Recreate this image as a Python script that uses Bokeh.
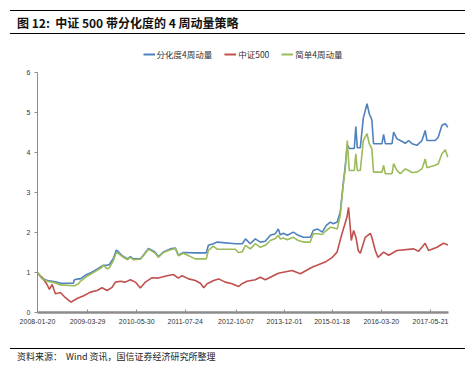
import pandas as pd
from bokeh.plotting import figure
from bokeh.layouts import column
from bokeh.models import (Range1d, FixedTicker, DatetimeTickFormatter, Legend, LegendItem,
                          ColumnDataSource, Div)
from bokeh.embed import file_html
from bokeh.resources import INLINE

# ---------------- data ----------------
title_text = "图 12:&nbsp; 中证 500 带分化度的 4 周动量策略"
source_text = "资料来源：&nbsp; Wind 资讯，国信证券经济研究所整理"
series_names = ["分化度4周动量", "中证500", "简单4周动量"]

tick_labels = ["2008-01-20", "2009-03-29", "2010-05-30", "2011-07-24", "2012-10-07",
               "2013-12-01", "2015-01-18", "2016-03-20", "2017-05-21"]

bg_dates = ["2008-01-20", "2008-03-02", "2008-04-15", "2008-06-23", "2008-08-06", "2008-11-26",
            "2008-12-05", "2009-01-09", "2009-01-26", "2009-03-10", "2009-05-01", "2009-06-23",
            "2009-07-27", "2009-08-14", "2009-09-17", "2009-10-05", "2009-11-08", "2009-12-04",
            "2009-12-21", "2010-01-25", "2010-03-10", "2010-04-05", "2010-05-01", "2010-06-30",
            "2010-07-26", "2010-09-08", "2010-10-12", "2010-11-07", "2010-12-03", "2011-01-16",
            "2011-03-17", "2011-04-30", "2011-05-26", "2011-07-08", "2011-10-20", "2012-01-23",
            "2012-02-10", "2012-03-24", "2012-04-28", "2012-10-01", "2012-10-27", "2012-12-01",
            "2012-12-28", "2013-02-08", "2013-03-23", "2013-05-06", "2013-06-18", "2013-08-01",
            "2013-09-13", "2013-10-09", "2013-10-26", "2013-11-21", "2013-12-26", "2014-02-16",
            "2014-03-31", "2014-05-14", "2014-07-13", "2014-08-08", "2014-09-12", "2014-10-25",
            "2014-11-29", "2015-01-03", "2015-01-29", "2015-03-04", "2015-03-30", "2015-04-25",
            "2015-05-13", "2015-05-30", "2015-06-16", "2015-07-30", "2015-08-12", "2015-08-25",
            "2015-09-20", "2015-10-16", "2015-11-17", "2015-12-07", "2015-12-29", "2016-01-13",
            "2016-03-26", "2016-04-09", "2016-04-24", "2016-06-21", "2016-07-05", "2016-08-03",
            "2016-09-01", "2016-10-14", "2016-11-12", "2016-12-11", "2017-01-23", "2017-03-08",
            "2017-04-05", "2017-04-20", "2017-07-01", "2017-07-27", "2017-08-28", "2017-09-26",
            "2017-10-19"]

blue_vals = [1.00, 0.85, 0.80, 0.77, 0.73, 0.73,
             0.82, 0.84, 0.84, 0.93, 1.00, 1.09,
             1.15, 1.18, 1.18, 1.20, 1.35, 1.56,
             1.52, 1.42, 1.34, 1.40, 1.34, 1.34,
             1.43, 1.60, 1.55, 1.50, 1.40, 1.51,
             1.59, 1.61, 1.43, 1.50, 1.49, 1.49,
             1.68, 1.72, 1.76, 1.72, 1.72, 1.72,
             1.84, 1.72, 1.84, 1.76, 1.78, 1.93,
             1.97, 2.09, 1.94, 1.98, 1.93, 2.01,
             1.93, 1.88, 1.88, 2.05, 2.09, 2.01,
             2.18, 2.26, 2.22, 2.26, 2.51, 3.22,
             3.68, 4.20, 4.10, 4.10, 4.65, 4.12,
             4.12, 4.86, 5.22, 4.97, 4.82, 4.22,
             4.22, 4.45, 4.22, 4.22, 4.51, 4.34,
             4.30, 4.23, 4.30, 4.22, 4.18, 4.30,
             4.55, 4.30, 4.30, 4.38, 4.68, 4.72,
             4.63]

green_vals = [1.00, 0.84, 0.78, 0.74, 0.69, 0.67,
              0.67, 0.72, 0.78, 0.88, 0.97, 1.06,
              1.12, 1.18, 1.09, 1.12, 1.30, 1.50,
              1.48, 1.40, 1.32, 1.38, 1.32, 1.33,
              1.42, 1.58, 1.53, 1.48, 1.38, 1.50,
              1.57, 1.60, 1.42, 1.48, 1.34, 1.34,
              1.55, 1.66, 1.58, 1.58, 1.50, 1.52,
              1.68, 1.59, 1.72, 1.63, 1.68, 1.80,
              1.85, 1.93, 1.84, 1.86, 1.82, 1.88,
              1.80, 1.76, 1.76, 1.97, 1.97, 1.95,
              2.05, 2.13, 2.12, 2.09, 2.43, 3.20,
              3.60, 4.30, 3.55, 3.55, 3.97, 3.55,
              3.55, 4.30, 4.47, 4.22, 4.09, 3.51,
              3.51, 3.68, 3.47, 3.47, 3.72, 3.55,
              3.47, 3.59, 3.55, 3.50, 3.51, 3.59,
              3.84, 3.62, 3.68, 3.72, 3.97, 4.07,
              3.88]

red_dates = ["2008-01-20", "2008-02-29", "2008-04-12", "2008-05-02", "2008-05-26", "2008-06-23",
             "2008-08-06", "2008-09-18", "2008-11-06", "2008-12-28", "2009-02-24", "2009-04-23",
             "2009-06-20", "2009-08-02", "2009-09-15", "2009-10-28", "2009-11-26", "2010-01-08",
             "2010-02-20", "2010-04-05", "2010-05-18", "2010-06-30", "2010-08-13", "2010-10-10",
             "2010-12-03", "2011-02-17", "2011-04-12", "2011-05-26", "2011-06-27", "2011-08-23",
             "2011-10-20", "2011-12-03", "2012-01-01", "2012-01-30", "2012-03-27", "2012-05-09",
             "2012-07-06", "2012-09-02", "2012-10-30", "2012-11-28", "2013-01-10", "2013-03-23",
             "2013-05-06", "2013-06-18", "2013-10-09", "2014-02-05", "2014-04-18", "2014-07-28",
             "2014-11-20", "2015-01-17", "2015-03-02", "2015-04-14", "2015-05-27", "2015-06-10",
             "2015-07-04", "2015-07-24", "2015-08-13", "2015-09-02", "2015-09-20", "2015-11-02",
             "2015-12-16", "2015-12-30", "2016-01-28", "2016-02-20", "2016-04-09", "2016-05-23",
             "2016-08-03", "2016-12-26", "2017-02-06", "2017-04-05", "2017-05-04", "2017-07-16",
             "2017-09-11", "2017-10-19"]

red_vals = [0.98, 0.88, 0.70, 0.58, 0.70, 0.47,
            0.50, 0.37, 0.26, 0.35, 0.42, 0.51,
            0.55, 0.62, 0.55, 0.63, 0.76, 0.78,
            0.76, 0.82, 0.76, 0.61, 0.76, 0.87,
            0.86, 0.92, 0.95, 0.86, 0.92, 0.84,
            0.80, 0.73, 0.62, 0.72, 0.80, 0.84,
            0.76, 0.72, 0.65, 0.72, 0.78, 0.82,
            0.88, 0.82, 0.98, 1.05, 0.97, 1.13,
            1.26, 1.37, 1.51, 1.97, 2.38, 2.63,
            1.80, 2.05, 1.88, 1.55, 1.48, 1.88,
            1.98, 1.87, 1.55, 1.38, 1.51, 1.43,
            1.55, 1.59, 1.53, 1.73, 1.55, 1.63,
            1.73, 1.69]

x_start = "2008-01-20"
x_end = "2017-10-24"

W = 470
CJK = "Noto Sans CJK SC"
colors = ["#4F81BD", "#C0504D", "#9BBB59"]

# ---------------- header (rules + title) ----------------
header = Div(width=W, height=40, margin=0, text=(
    '<div style="position:relative;width:%dpx;height:40px;">'
    '<div style="position:absolute;left:10px;top:10px;width:455px;border-top:1px solid #000;"></div>'
    '<div style="position:absolute;left:17px;top:14px;white-space:nowrap;'
    'font-family:\'Noto Sans CJK SC\';font-weight:bold;font-size:12px;line-height:18px;color:#111;">%s</div>'
    '<div style="position:absolute;left:10px;top:33px;width:455px;border-top:1px solid #000;"></div>'
    '</div>') % (W, title_text))

# ---------------- legend strip ----------------
lg = figure(width=W, height=28, output_backend="svg", toolbar_location=None,
            x_range=Range1d(0, 10), y_range=Range1d(0, 10),
            x_axis_location=None, y_axis_location=None,
            min_border=0, min_border_left=37, min_border_right=22,
            min_border_top=0, min_border_bottom=0)
lg.grid.visible = False
lg.outline_line_color = None
leg_r = [lg.line(x=[-20, -10], y=[-20, -20], line_color=c, line_width=2) for c in colors]
legend = Legend(items=[LegendItem(label=n, renderers=[r]) for n, r in zip(series_names, leg_r)],
                orientation="horizontal", location="bottom_center",
                label_text_font=CJK, label_text_font_size="8.5px",
                label_text_color="#333333", glyph_width=12, glyph_height=8,
                spacing=12, padding=2, margin=8, label_standoff=2,
                border_line_color=None, background_fill_alpha=0)
lg.add_layout(legend, "center")

# ---------------- main chart ----------------
p = figure(width=W, height=272, x_axis_type="datetime", output_backend="svg",
           toolbar_location=None, min_border_left=37, min_border_right=22,
           min_border_top=4, min_border_bottom=28,
           x_range=Range1d(pd.Timestamp(x_start), pd.Timestamp(x_end)),
           y_range=Range1d(0, 6))
p.outline_line_color = None
p.grid.visible = False
p.background_fill_color = "white"
p.border_fill_color = "white"

src_bg = ColumnDataSource(dict(x=pd.to_datetime(bg_dates), b=blue_vals, g=green_vals))
src_r = ColumnDataSource(dict(x=pd.to_datetime(red_dates), r=red_vals))
p.line("x", "b", source=src_bg, line_color=colors[0], line_width=1.6)
p.line("x", "r", source=src_r, line_color=colors[1], line_width=1.6)
p.line("x", "g", source=src_bg, line_color=colors[2], line_width=1.6)

tick_ms = [pd.Timestamp(t).value // 10**6 for t in tick_labels]
xa = p.xaxis[0]
xa.ticker = FixedTicker(ticks=tick_ms)
fmt = "%Y-%m-%d"
xa.formatter = DatetimeTickFormatter(days=fmt, months=fmt, years=fmt, hours=fmt, minutes=fmt)
xa.axis_line_color = "#8C8C8C"
xa.axis_line_width = 2.5
xa.major_tick_line_color = "#8C8C8C"
xa.major_tick_in = 3
xa.major_tick_out = 0
xa.minor_tick_line_color = None
xa.major_label_text_font = "Liberation Sans"
xa.major_label_text_font_size = "7px"
xa.major_label_text_color = "#333333"
xa.major_label_standoff = 6

ya = p.yaxis[0]
ya.ticker = FixedTicker(ticks=[0, 1, 2, 3, 4, 5, 6])
ya.axis_line_color = "#8C8C8C"
ya.major_tick_line_color = "#8C8C8C"
ya.major_tick_in = 0
ya.major_tick_out = 3
ya.minor_tick_line_color = None
ya.major_label_text_font = "Liberation Sans"
ya.major_label_text_font_size = "7px"
ya.major_label_text_color = "#333333"
ya.major_label_standoff = 4

# ---------------- footer (rule + source) ----------------
footer = Div(width=W, height=25, margin=0, text=(
    '<div style="position:relative;width:%dpx;height:25px;">'
    '<div style="position:absolute;left:10px;top:8px;width:455px;border-top:1px solid #000;"></div>'
    '<div style="position:absolute;left:17px;top:10px;white-space:nowrap;'
    'font-family:\'Noto Sans CJK SC\';font-size:9px;line-height:13px;color:#222;">%s</div>'
    '</div>') % (W, source_text))

layout = column(header, lg, p, footer, spacing=0)
open("out.html", "w").write(file_html(layout, INLINE))
